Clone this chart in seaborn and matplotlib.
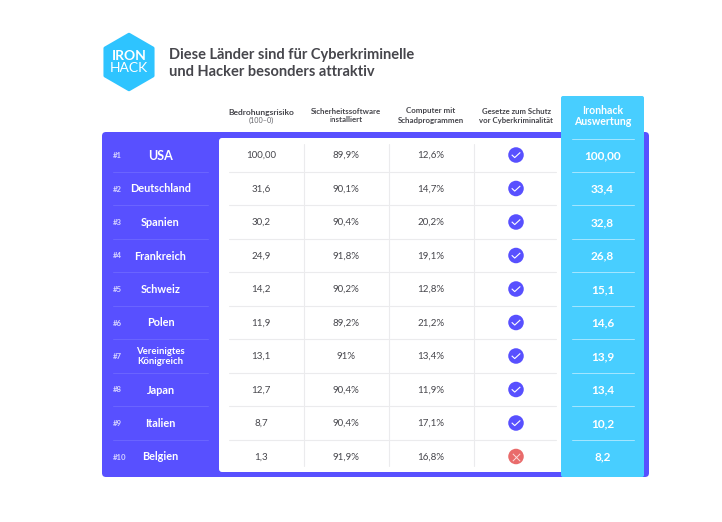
import matplotlib
matplotlib.use("Agg")
import matplotlib.pyplot as plt
from matplotlib.patches import FancyBboxPatch, RegularPolygon
from matplotlib.path import Path
import seaborn as sns
import pandas as pd

countries = ["USA", "Deutschland", "Spanien", "Frankreich", "Schweiz", "Polen",
             "Vereinigtes\nKönigreich", "Japan", "Italien", "Belgien"]
ranks = ["#1", "#2", "#3", "#4", "#5", "#6", "#7", "#8", "#9", "#10"]
threat = ["100,00", "31,6", "30,2", "24,9", "14,2", "11,9", "13,1", "12,7", "8,7", "1,3"]
software = ["89,9%", "90,1%", "90,4%", "91,8%", "90,2%", "89,2%", "91%", "90,4%", "90,4%", "91,9%"]
malware = ["12,6%", "14,7%", "20,2%", "19,1%", "12,8%", "21,2%", "13,4%", "11,9%", "17,1%", "16,8%"]
laws = [True, True, True, True, True, True, True, True, True, False]
score = ["100,00", "33,4", "32,8", "26,8", "15,1", "14,6", "13,9", "13,4", "10,2", "8,2"]
headers = ["Bedrohungsrisiko", "Sicherheitssoftware\ninstalliert",
           "Computer mit\nSchadprogrammen", "Gesetze zum Schutz\nvor Cyberkriminalität"]
title_lines = "Diese Länder sind für Cyberkriminelle\nund Hacker besonders attraktiv"

PURPLE, CYAN, INK, RED = "#5850FF", "#48CEFF", "#46464C", "#E96B6B"
FONT = "Lato"
ROW0, ROWH = 155, 33.5
COLX = [261, 346, 431, 516]

sns.set_theme(style="white", rc={"font.family": FONT})
fig = plt.figure(figsize=(7.22, 5.22), dpi=100, facecolor="white")
ax = fig.add_axes([0, 0, 1, 1])
ax.set_xlim(0, 722)
ax.set_ylim(522, 0)
ax.axis("off")

def box(x0, y0, x1, y1, color, r=3, z=1):
    ax.add_patch(FancyBboxPatch((x0 + r, y0 + r), x1 - x0 - 2 * r, y1 - y0 - 2 * r,
                                boxstyle=f"round,pad={r},rounding_size={r}",
                                fc=color, ec="none", zorder=z))

box(102, 132, 649, 477, PURPLE, 4, 1)
box(219, 138, 570, 472, "white", 3, 2)
box(561, 96, 644, 477, CYAN, 2, 3)

# logo
ax.add_patch(RegularPolygon((129, 62), 6, radius=27.5, fc="#2EC4FF", ec="#2EC4FF",
                            lw=2.5, joinstyle="round", zorder=2))
ax.text(129, 55.5, "IRON", color="white", fontsize=10, fontweight="bold",
        ha="center", va="center", zorder=3)
ax.text(129, 68.5, "HACK", color="white", fontsize=10, fontweight="normal",
        ha="center", va="center", zorder=3)

ax.text(169, 55, title_lines.split("\n")[0], color=INK, fontsize=10.5, fontweight="bold",
        ha="left", va="center")
ax.text(169, 72.5, title_lines.split("\n")[1], color=INK, fontsize=10.5, fontweight="bold",
        ha="left", va="center")

# headers
ax.text(COLX[0], 112, headers[0], color=INK, fontsize=6.1, fontweight="bold", ha="center", va="center")
ax.text(COLX[0], 120.5, "(100–0)", color="#66666C", fontsize=5.2, ha="center", va="center")
for x, h, fs in zip(COLX[1:], headers[1:], [5.7, 5.7, 5.6]):
    a, b = h.split("\n")
    ax.text(x, 111, a, color=INK, fontsize=fs, fontweight="bold", ha="center", va="center")
    ax.text(x, 120, b, color=INK, fontsize=fs, fontweight="bold", ha="center", va="center")
ax.text(602.5, 110.5, "Ironhack", color="white", fontsize=7.6, fontweight="bold", ha="center", va="center", zorder=5)
ax.text(602.5, 121.5, "Auswertung", color="white", fontsize=7.6, fontweight="bold", ha="center", va="center", zorder=5)

rows = pd.DataFrame({"country": countries, "rank": ranks, "threat": threat, "software": software,
                     "malware": malware, "laws": laws, "score": score})
rows["y"] = [ROW0 + ROWH * i for i in range(len(rows))]

# grid lines
ax.plot([572, 634], [138.5, 138.5], color="#A5E6FF", lw=0.7, zorder=4)
for y in rows["y"].iloc[:-1] + ROWH / 2:
    ax.plot([229, 556], [y, y], color="#EBEBED", lw=0.8, zorder=3)
    ax.plot([113, 208], [y, y], color="#6E69FF", lw=0.6, zorder=3)
    ax.plot([572, 634], [y, y], color="#A5E6FF", lw=0.7, zorder=4)
for x in [303.5, 388.5, 473.5]:
    ax.plot([x, x], [144, 466], color="#EBEBED", lw=0.8, zorder=3)

for _, r in rows.iterrows():
    y = r["y"] + 0.5
    ax.text(113, y, r["rank"], color="#D6D4FF", fontsize=5.6, fontweight="bold",
            ha="left", va="center", zorder=4)
    big = r["country"] == "USA"
    ax.text(160.5, y, r["country"], color="white", fontsize=9 if big else (6.8 if "\n" in r["country"] else 7.8),
            fontweight="bold", ha="center", va="center", linespacing=1.15, zorder=4)
    ax.text(COLX[0], y, r["threat"], color=INK, fontsize=7, ha="center", va="center", zorder=4)
    ax.text(COLX[1], y, r["software"], color=INK, fontsize=7, ha="center", va="center", zorder=4)
    ax.text(COLX[2], y, r["malware"], color=INK, fontsize=7, ha="center", va="center", zorder=4)
    ax.text(602.5, y, r["score"], color="white", fontsize=8.5, fontweight="bold", ha="center", va="center", zorder=5)

rows["x"] = COLX[3]
rows["status"] = rows["laws"].map({True: "ja", False: "nein"})
sns.scatterplot(data=rows, x="x", y="y", hue="status", palette={"ja": PURPLE, "nein": RED},
                s=125, linewidth=0, legend=False, ax=ax, zorder=5, clip_on=False)
check = Path([(-1, 0.05), (-0.3, -0.6), (1, 0.6)], [Path.MOVETO, Path.LINETO, Path.LINETO])
ok = rows[rows["laws"]]
no = rows[~rows["laws"]]
ax.scatter(ok["x"], ok["y"], marker=check, s=38, facecolors="none", edgecolors="white", linewidths=0.8, zorder=6)
ax.scatter(no["x"], no["y"], marker="x", s=28, c="#FBDADA", linewidths=0.7, zorder=6)

ax.set_xlabel("")
ax.set_ylabel("")
ax.set_xlim(0, 722)
ax.set_ylim(522, 0)
ax.axis("off")
fig.savefig("out.png", dpi=100, facecolor="white")
